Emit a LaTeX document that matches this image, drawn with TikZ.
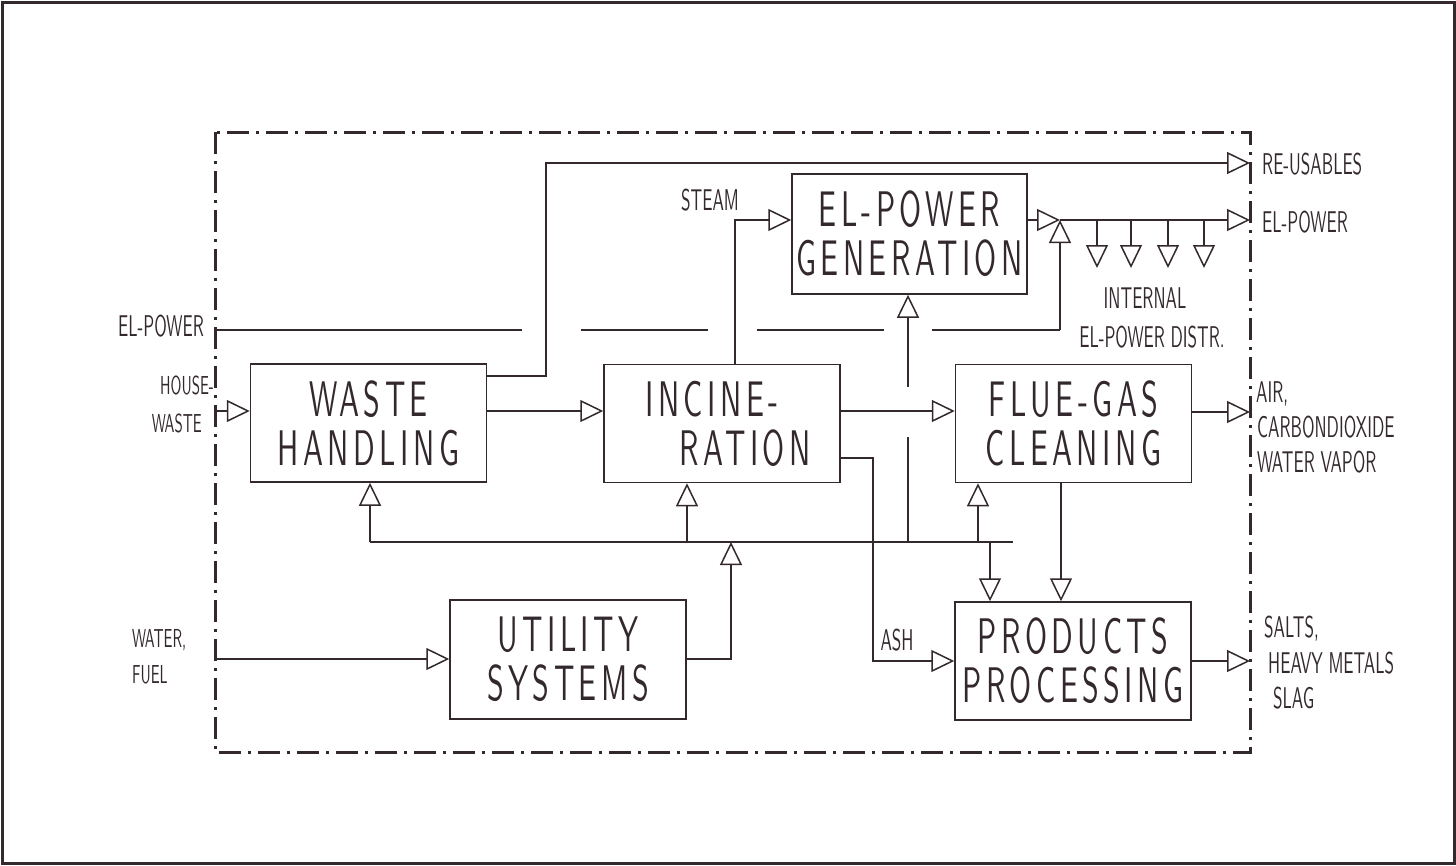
\documentclass[tikz,border=0pt]{standalone}
\usepackage{fontspec}
\usetikzlibrary{arrows.meta}
\newfontfamily\boxfont{lmsans10-regular.otf}[FakeStretch=0.6,LetterSpace=9]
\newfontfamily\lblfont{lmsans10-regular.otf}[FakeStretch=0.57]
\definecolor{ink}{RGB}{50,40,46}
\tikzset{
  box/.style={draw, line width=1.5pt, minimum width=236pt, minimum height=118pt, inner sep=0pt,
    align=center, font=\boxfont\fontsize{50}{49}\selectfont},
  lbl/.style={inner sep=0pt, font=\lblfont\fontsize{30}{32}\selectfont},
  slbl/.style={inner sep=0pt, font=\lblfont\fontsize{26}{28}\selectfont},
  conn/.style={line width=1.5pt},
  arr/.style={conn, -{Triangle[open,length=23pt,width=22pt,line width=1.5pt]}},
  sysframe/.style={line width=3pt, dash pattern=on 22pt off 7pt on 3pt off 7pt},
}
\begin{document}
\begin{tikzpicture}[x=1pt,y=-1pt,color=ink]
\useasboundingbox (0,0) rectangle (1456,865);
\draw[line width=3pt] (2,2) rectangle (1454,863);
% system boundary
\coordinate (fTL) at (215,132);
\coordinate (fBR) at (1250,752);
\draw[sysframe] (fTL) rectangle (fBR);

% boxes
\node[box] (wh) at (368.5,423) {WASTE\\HANDLING};
\node[box] (inc) at (722,423.5) {INCINE-\hspace*{20pt}\\\hspace*{46pt}RATION};
\node[box] (fgc) at (1073.5,423.5) {FLUE-GAS\\CLEANING};
\node[box, minimum width=235pt, minimum height=120pt] (epg) at (909.5,234) {EL-POWER\\GENERATION};
\node[box, minimum height=119pt] (util) at (568,659.5) {UTILITY\\SYSTEMS};
\node[box] (pp) at (1073,661) {PRODUCTS\\PROCESSING};

% house waste in
\coordinate (inHW) at (215,411);
\draw[arr] (inHW) -- (wh.west |- inHW);
\draw[arr] (wh.east |- inHW) -- (inc.west |- inHW);
% re-usables
\coordinate (ru1) at (546,376);
\coordinate (ru2) at (546,163);
\coordinate (outRU) at (1250,163);
\draw[arr] (wh.east |- ru1) -- (ru1) -- (ru2) -- (outRU);
% steam
\coordinate (st1) at (735,220);
\draw[arr] (inc.north -| st1) -- (st1) -- (epg.west |- st1);
% el-power out
\coordinate (j1) at (1060,220);
\coordinate (outEP) at (1250,220);
\draw[arr] (epg.east |- j1) -- (j1);
\draw[arr] (j1) -- (outEP);
\foreach \x [count=\i] in {1097,1131,1168,1204}{
  \coordinate (d\i) at (\x,268);
  \draw[arr] (d\i |- j1) -- (d\i);
}
% el-power in (with crossing gaps)
\coordinate (inEP) at (215,330);
\coordinate (ep4) at (1060,330);
\draw[conn] (inEP) -- (522,330) (581,330) -- (708,330) (757,330) -- (884,330) (932,330) -- (ep4);
\draw[arr] (ep4) -- (j1);
% flue gas
\draw[arr] (inc.east |- inHW) -- (fgc.west |- inHW);
\coordinate (outFG) at (1250,412);
\draw[arr] (fgc.east |- outFG) -- (outFG);
% ash
\coordinate (ash1) at (873,458);
\coordinate (ash2) at (873,661);
\draw[arr] (inc.east |- ash1) -- (ash1) -- (ash2) -- (pp.west |- ash2);
% utility bus
\coordinate (busL) at (370,542);
\coordinate (busR) at (1013,542);
\draw[conn] (busL) -- (busR);
\draw[arr] (busL) -- (wh.south -| busL);
\coordinate (b2) at (687,542);
\draw[arr] (b2) -- (inc.south -| b2);
\coordinate (b3) at (978,542);
\draw[arr] (b3) -- (fgc.south -| b3);
\coordinate (b4) at (990,542);
\draw[arr] (b4) -- (pp.north -| b4);
\coordinate (fp) at (1061,482);
\draw[arr] (fgc.south -| fp) -- (pp.north -| fp);
\coordinate (u1) at (731,659);
\coordinate (b6) at (731,542);
\draw[arr] (util.east |- u1) -- (u1) -- (b6);
\coordinate (inWF) at (215,659);
\draw[arr] (inWF) -- (util.west |- inWF);
\coordinate (b7) at (908,542);
\coordinate (g1) at (908,437);
\coordinate (g2) at (908,387);
\draw[conn] (b7) -- (g1);
\draw[arr] (g2) -- (epg.south -| b7);
\coordinate (outPP) at (1250,661);
\draw[arr] (pp.east |- outPP) -- (outPP);

% labels
\node[lbl, anchor=base east] (lEPin) at (204,336) {EL-POWER};
\node[slbl, anchor=base east] (lHouse) at (214,394) {HOUSE-};
\node[slbl, anchor=base east] (lWaste) at (202,432) {WASTE};
\node[slbl, anchor=base west] (lWater) at (132,647) {WATER,};
\node[slbl, anchor=base west] (lFuel) at (132,683) {FUEL};
\node[lbl, anchor=base] (lSteam) at (710,210) {STEAM};
\node[lbl, anchor=base west] (lRU) at (1262,174) {RE-USABLES};
\node[lbl, anchor=base west] (lEPout) at (1262,232) {EL-POWER};
\node[lbl, anchor=base] (lInt) at (1145,308) {INTERNAL};
\node[lbl, anchor=base] (lDist) at (1152,347) {EL-POWER DISTR.};
\node[lbl, anchor=base west] (lAir) at (1256,402) {AIR,};
\node[lbl, anchor=base west] (lCO2) at (1257,437) {CARBONDIOXIDE};
\node[lbl, anchor=base west] (lH2O) at (1257,472) {WATER VAPOR};
\node[lbl, anchor=base west] (lSalt) at (1264,637) {SALTS,};
\node[lbl, anchor=base west] (lHM) at (1268,673) {HEAVY METALS};
\node[lbl, anchor=base west] (lSlag) at (1273,708) {SLAG};
\node[lbl, anchor=base] (lAsh) at (897,650) {ASH};
\end{tikzpicture}
\end{document}
